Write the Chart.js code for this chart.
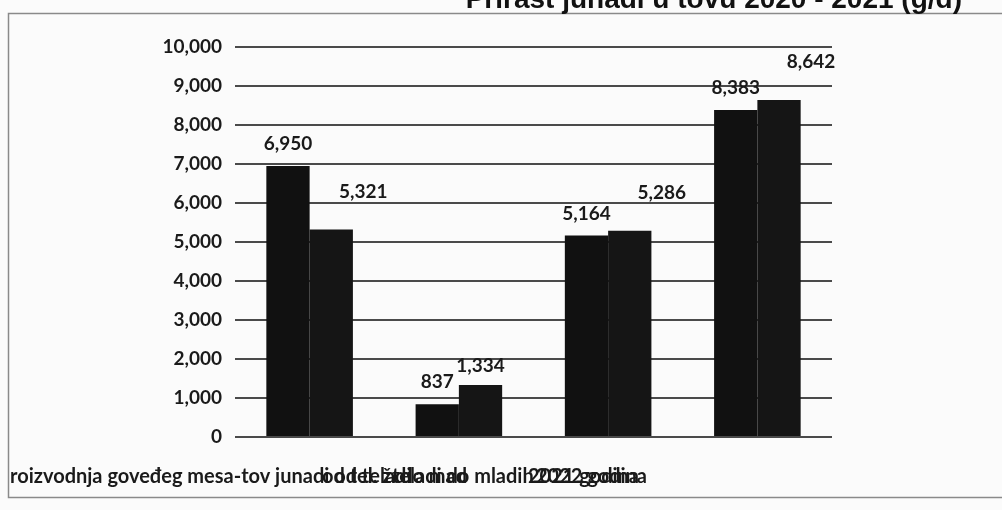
<!DOCTYPE html>
<html>
<head>
<meta charset="utf-8">
<script src="https://cdn.jsdelivr.net/npm/chart.js@4/dist/chart.umd.min.js"></script>
<style>
  html, body { margin: 0; padding: 0; background: #fff; }
  #wrap { position: relative; width: 1002px; height: 510px; }
</style>
</head>
<body>
<div id="wrap"><canvas id="chart"></canvas></div>
<script>
// podaci sa grafikona
const categories = ["Grupa 1", "Grupa 2", "Grupa 3", "Grupa 4"];
const seriesNames = ["2021 godina", "2022 godina"];
const values2021 = [6950, 837, 5164, 8383];
const values2022 = [5321, 1334, 5286, 8642];
const yTicks = [0, 1000, 2000, 3000, 4000, 5000, 6000, 7000, 8000, 9000, 10000];

const TXT = "#1a1a1a";
const FONT = "Lato, 'Open Sans', sans-serif";

// natpisi vrijednosti iznad stubica (pomak kao na skeniranoj slici)
const valueLabels = {
    id: 'valueLabels',
    afterDatasetsDraw(chart) {
        const ctx = chart.ctx;
        ctx.save();
        ctx.font = "bold 19px " + FONT;
        ctx.fillStyle = TXT;
        ctx.textAlign = "center";
        ctx.textBaseline = "middle";
        chart.data.datasets.forEach((ds, di) => {
            chart.getDatasetMeta(di).data.forEach((bar, i) => {
                let dx = 0, dy = -22;
                if (di === 1 && i !== 1) { dx = 32; dy = -38; }
                if (di === 1 && i === 1) { dy = -19; }
                ctx.fillText(ds.data[i].toLocaleString('en-US'), bar.x + dx, bar.y + dy);
            });
        });
        ctx.restore();
    }
};

// okvir, odsjeceni naslov i preklopljeni nazivi kategorija
const decorations = {
    id: 'decorations',
    beforeDraw(chart) {
        const ctx = chart.ctx;
        ctx.save();
        ctx.fillStyle = "#fbfbfb";
        ctx.fillRect(0, 0, chart.width, chart.height);
        ctx.strokeStyle = "#8a8a8a";
        ctx.lineWidth = 1.5;
        ctx.strokeRect(8.5, 13.5, 1000, 484);
        ctx.restore();
    },
    afterDraw(chart) {
        const ctx = chart.ctx;
        ctx.save();
        ctx.fillStyle = "#111";
        ctx.font = "bold 28px 'Liberation Sans', Arial, sans-serif";
        ctx.textAlign = "right";
        ctx.textBaseline = "alphabetic";
        ctx.fillText("Prirast junadi u tovu 2020 - 2021 (g/d)", 962, 8);

        // nazivi kategorija preklopljeni jedan preko drugog, kao u originalu
        ctx.font = "bold 20px " + FONT;
        ctx.fillStyle = TXT;
        ctx.textAlign = "left";
        ctx.textBaseline = "middle";
        ctx.fillText("roizvodnja goveđeg mesa-tov junadi od teladi", 10, 477);
        ctx.fillText("od tel. ž. do mad", 322, 477);
        ctx.fillText("teladi do mladih", 392, 477);
        ctx.fillText(seriesNames[0], 528, 477);
        ctx.fillText(seriesNames[1], 536, 477);
        ctx.restore();
    }
};

new Chart(document.getElementById('chart'), {
    type: 'bar',
    data: {
        labels: categories,
        datasets: [
            { label: seriesNames[0], data: values2021, backgroundColor: "#111", borderWidth: 0 },
            { label: seriesNames[1], data: values2022, backgroundColor: "#151515", borderWidth: 0 }
        ]
    },
    options: {
        responsive: true,
        maintainAspectRatio: false,
        animation: false,
        layout: { padding: { left: 0, right: 170, top: 47, bottom: 0 } },
        datasets: { bar: { categoryPercentage: 0.58, barPercentage: 1.0 } },
        plugins: {
            legend: { display: false },
            title: { display: false },
            tooltip: { enabled: false }
        },
        scales: {
            x: {
                grid: { display: false },
                border: { display: false },
                ticks: { display: false },
                afterFit(scale) { scale.height = 73; }
            },
            y: {
                min: 0,
                max: 10000,
                afterBuildTicks(scale) { scale.ticks = yTicks.map(v => ({ value: v })); },
                grid: { color: "#4a4a4a", lineWidth: 2, drawTicks: false },
                border: { display: false },
                ticks: {
                    padding: 13,
                    color: TXT,
                    font: { family: FONT, size: 19, weight: "bold" },
                    callback: v => v.toLocaleString('en-US')
                },
                afterFit(scale) { scale.width = 235; }
            }
        }
    },
    plugins: [decorations, valueLabels]
});
</script>
</body>
</html>
